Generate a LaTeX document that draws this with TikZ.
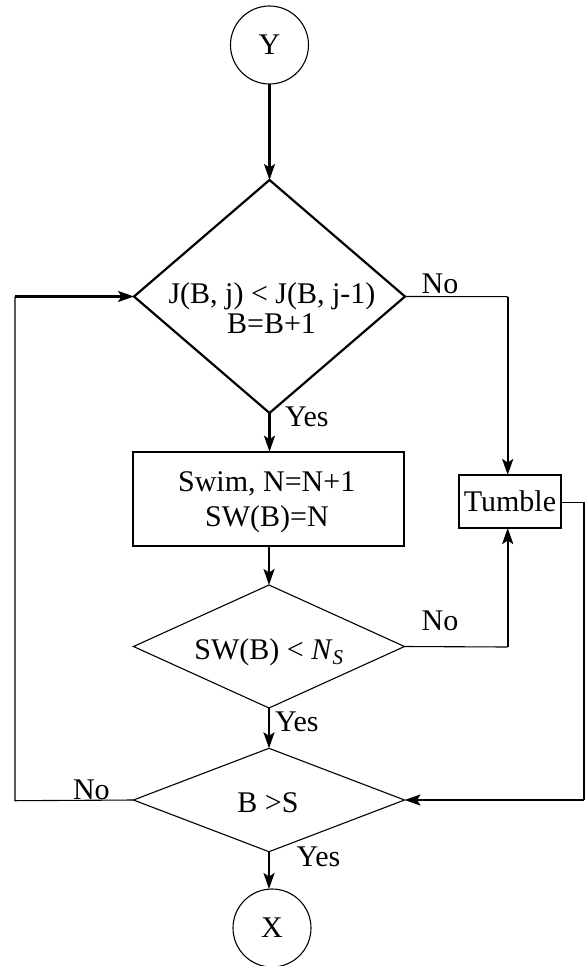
\documentclass[tikz,border=0pt]{standalone}
\usepackage{fontspec}
\setmainfont{Liberation Serif}
\usetikzlibrary{shapes.geometric,arrows.meta}
\begin{document}
\begin{tikzpicture}[x=1pt,y=-1pt,
  txt/.style={font=\fontsize{30pt}{32pt}\selectfont, inner sep=0pt, outer sep=0pt},
  thickline/.style={line width=2.2pt},
  thinline/.style={line width=1.1pt},
  arr/.style={thickline,-{Stealth[length=16pt,width=11pt,inset=3.5pt]}},
  dia/.style={diamond, draw, inner sep=0pt, outer sep=0pt, minimum width=271pt},
  term/.style={circle, draw, thinline, minimum size=78pt, inner sep=0pt, outer sep=0pt, txt},
  box/.style={rectangle, draw, inner sep=0pt, outer sep=0pt},
]
\useasboundingbox (0,0) rectangle (585,966);

% shapes
\node[term] (Y) at (269.5,45) {Y};
\node[dia, thickline, minimum height=233pt] (d1) at (269.5,296.5) {};
\node[box, thickline, minimum width=271pt, minimum height=94pt] (rect) at (268.5,498.7) {};
\node[box, thinline, minimum width=102pt, minimum height=53pt, txt] (tumble) at (510,501.5) {Tumble};
\node[dia, thinline, minimum height=123pt] (d2) at (269,646.5) {};
\node[dia, thinline, minimum height=103.4pt] (d3) at (269,800) {};
\node[term] (X) at (272,928) {X};

% texts in shapes
\node[txt, anchor=base] (d1a) at (272,303) {J(B, j) < J(B, j-1)};
\node[txt, anchor=base] (d1b) at (271.5,333) {B=B+1};
\node[txt, anchor=base] (ra) at (266.7,491.7) {Swim, N=N+1};
\node[txt, anchor=base] (rb) at (267,526) {SW(B)=N};
\node[txt, anchor=base] (d2a) at (269,659.3) {SW(B) < \textit{N}\textsubscript{\textit{S}}};
\node[txt, anchor=base] (d3a) at (268,812.7) {B >S};

% branch labels
\node[txt, anchor=base west] (no1) at (421.7,293) {No};
\node[txt, anchor=base west] (no2) at (421.7,630) {No};
\node[txt, anchor=base west] (no3) at (73,799) {No};
\node[txt, anchor=base west] (yes1) at (285,426.7) {Yes};
\node[txt, anchor=base west] (yes2) at (275,731) {Yes};
\node[txt, anchor=base west] (yes3) at (296.7,866.7) {Yes};

% corner coordinates
\coordinate (c1) at (507.7,296.7);
\coordinate (c2) at (507.7,647);
\coordinate (c3) at (584,502.7);
\coordinate (c4) at (584,800);
\coordinate (c5) at (15,800.7);
\coordinate (c6) at (c5 |- d1.west);

% main flow
\draw[arr] (Y.south) -- (d1.north);
\draw[arr] (d1.south) -- (d1.south |- rect.north);
\draw[arr] (rect.south -| d2.north) -- (d2.north);
\draw[arr] (d2.south) -- (d3.north);
\draw[arr] (d3.south) -- (d3.south |- X.north);

% No from d1 to Tumble
\draw[thinline] (d1.east) -- (c1);
\draw[arr] (c1) -- (c1 |- tumble.north);
% No from d2 to Tumble
\draw[thinline] (d2.east) -- (c2);
\draw[arr] (c2) -- (c2 |- tumble.south);
% Tumble to d3
\draw[thinline] (tumble.east |- c3) -- (c3) -- (c4);
\draw[arr] (c4) -- (d3.east);
% No from d3 back to d1
\draw[thinline] (d3.west) -- (c5) -- (c6);
\draw[arr] (c6) -- (d1.west);
\end{tikzpicture}
\end{document}
